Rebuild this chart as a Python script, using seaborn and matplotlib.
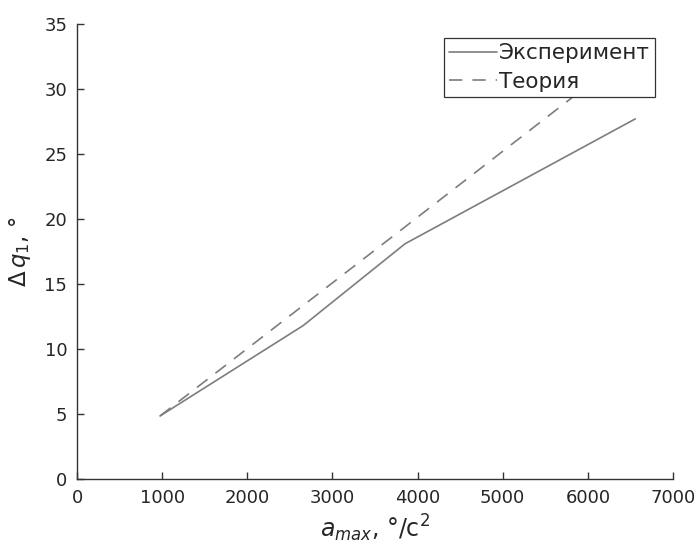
import matplotlib
matplotlib.use("Agg")
import matplotlib.pyplot as plt
import seaborn as sns
import pandas as pd

# values
a_max = [975, 2656, 3854, 6557]
dq_experiment = [4.85, 11.8, 18.1, 27.7]
dq_theory = [4.85, 13.35, 19.4, 33.1]
series_names = ["Эксперимент", "Теория"]

df = pd.DataFrame({
    "a": a_max + a_max,
    "dq": dq_experiment + dq_theory,
    "series": [series_names[0]] * len(a_max) + [series_names[1]] * len(a_max),
})

sns.set_style("ticks")
plt.rcParams["font.family"] = ["DejaVu Sans"]
plt.rcParams["mathtext.fontset"] = "dejavusans"

fig = plt.figure(figsize=(6.97, 5.52), dpi=100)
ax = fig.add_axes([0.1105, 0.1322, 0.855, 0.8243])

sns.lineplot(data=df, x="a", y="dq", style="series", color="#7d7d7d",
             dashes={series_names[0]: "", series_names[1]: (8, 6)},
             linewidth=1.2, ax=ax, legend=True)

ax.set_xlim(0, 7000)
ax.set_ylim(0, 35)
ax.set_xticks(range(0, 7001, 1000))
ax.set_yticks(range(0, 36, 5))
sns.despine(ax=ax)
for s in ["left", "bottom"]:
    ax.spines[s].set_color("#333333")
    ax.spines[s].set_linewidth(1.0)
ax.tick_params(direction="in", length=5, width=1.0, color="#333333",
               labelsize=13, labelcolor="#262626", pad=7)

ax.set_xlabel(r"$a_{max}$, °/c$^2$", fontsize=17, color="#262626", labelpad=4)
ax.set_ylabel(r"$\Delta\,q_1$, °", fontsize=16.5, color="#262626", labelpad=8)

leg = ax.legend(loc="upper right", bbox_to_anchor=(0.97, 0.969), borderaxespad=0,
                fontsize=15.5, frameon=True, fancybox=False, framealpha=1,
                edgecolor="#333333", handlelength=2.2, handletextpad=0.1,
                borderpad=0.25, labelspacing=0.38)
leg.get_frame().set_linewidth(0.9)
for t in leg.get_texts():
    t.set_color("#262626")

fig.savefig("out.png", dpi=100)
